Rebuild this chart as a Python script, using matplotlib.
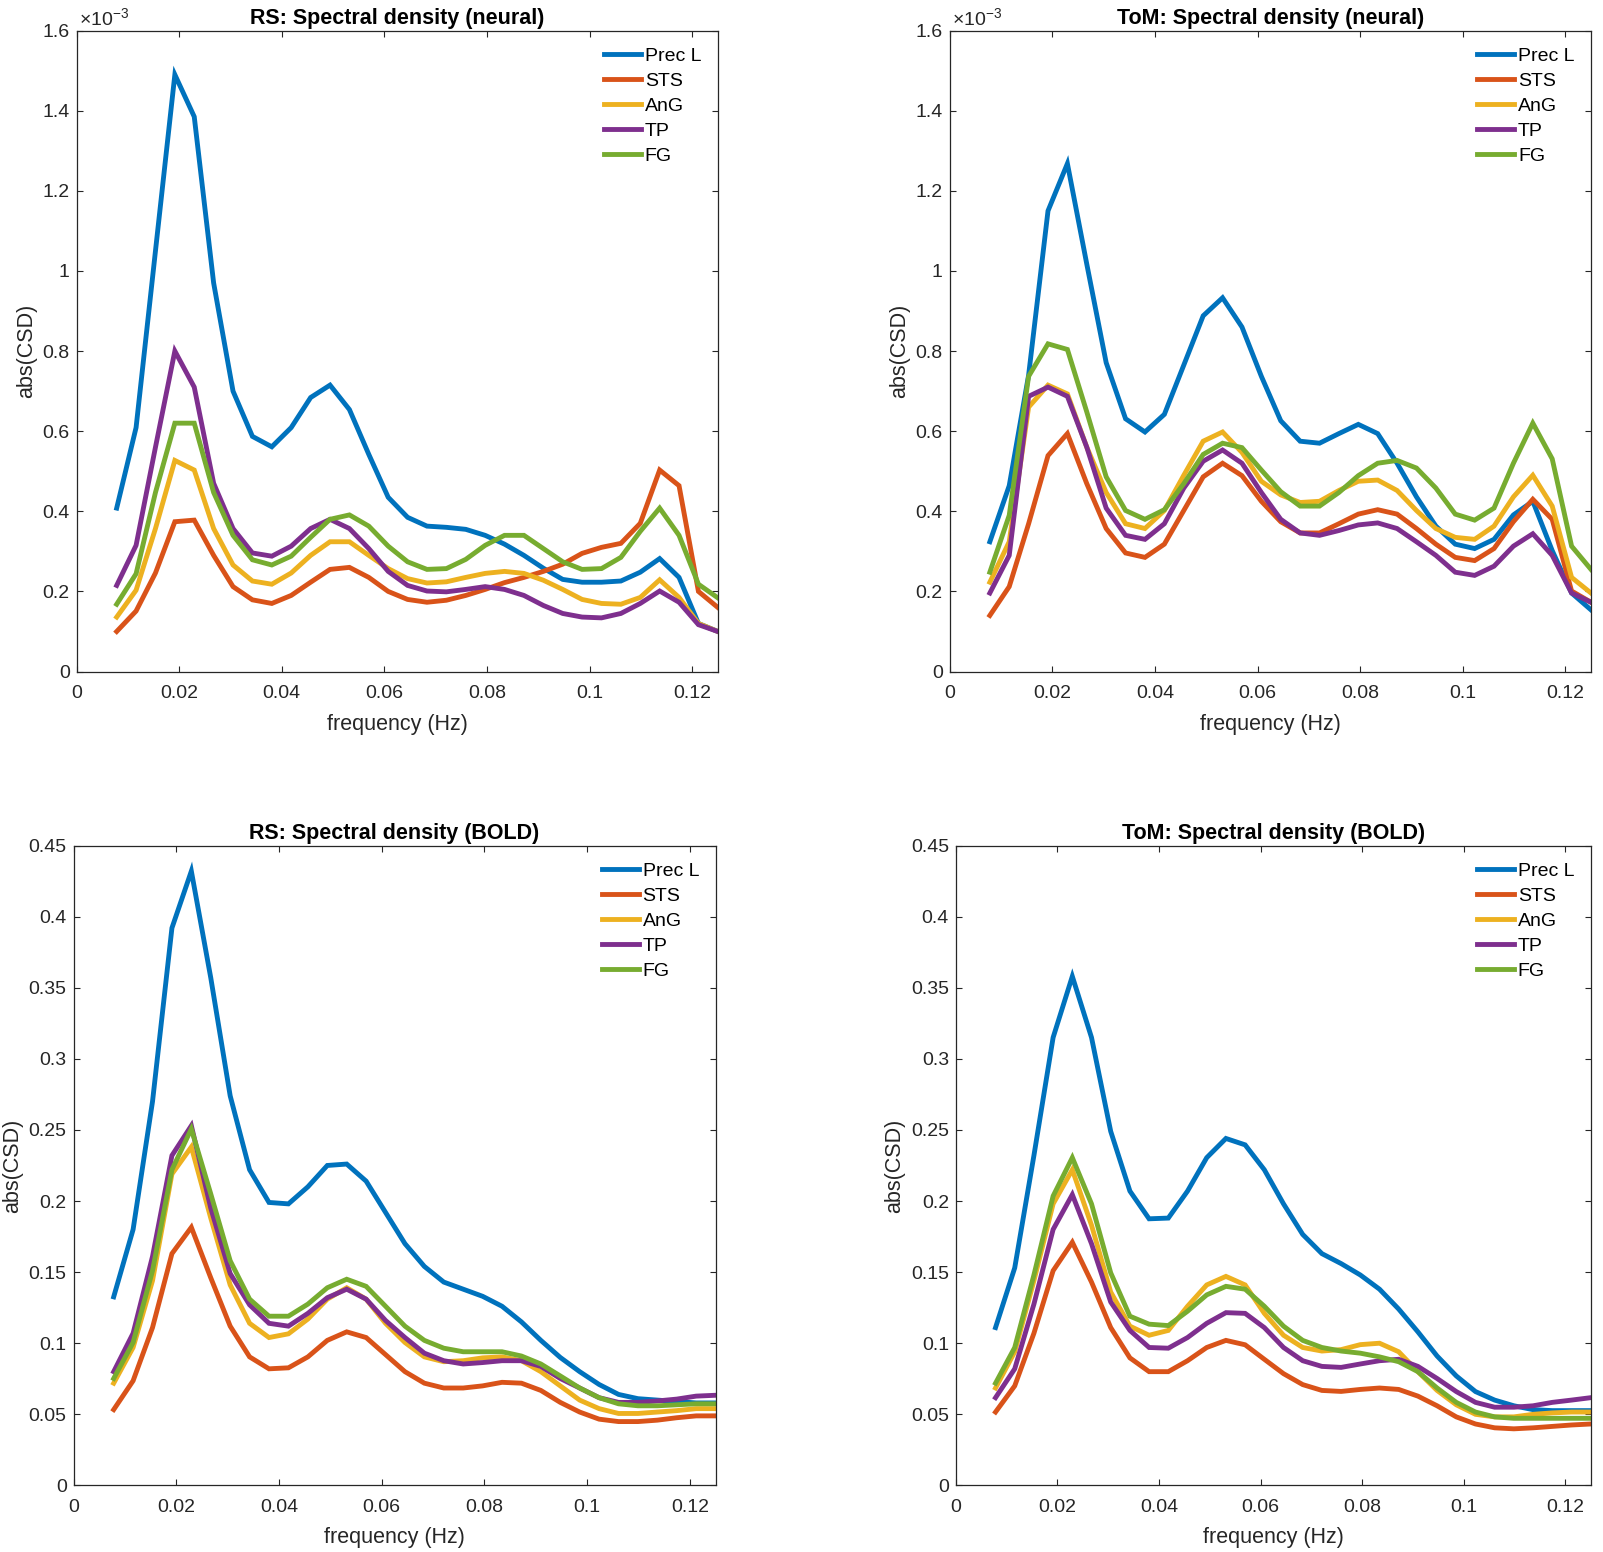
import numpy as np
import matplotlib.pyplot as plt
from matplotlib.ticker import FuncFormatter

plt.rcParams['font.family'] = ['Liberation Sans', 'DejaVu Sans']
plt.rcParams['mathtext.default'] = 'regular'

# frequency grid (Hz), 32 bins from 1/128 to 1/8
freq = [0.00781, 0.01159, 0.01537, 0.01915, 0.02293, 0.02671, 0.03049, 0.03427,
        0.03805, 0.04183, 0.04562, 0.04940, 0.05318, 0.05696, 0.06074, 0.06452,
        0.06830, 0.07208, 0.07586, 0.07964, 0.08342, 0.08720, 0.09098, 0.09476,
        0.09854, 0.10232, 0.10610, 0.10988, 0.11366, 0.11744, 0.12122, 0.12500]

regions = ['Prec L', 'STS', 'AnG', 'TP', 'FG']
colors = ['#0072BD', '#D95319', '#EDB120', '#7E2F8E', '#77AC30']

# RS neural (x 1e-3)
rs_neural_prec = [0.408, 0.609, 1.05, 1.49, 1.385, 0.97, 0.70, 0.587, 0.561, 0.609, 0.684, 0.715,
                  0.654, 0.542, 0.435, 0.385, 0.363, 0.36, 0.355, 0.34, 0.318, 0.29, 0.258, 0.23,
                  0.223, 0.223, 0.226, 0.248, 0.282, 0.235, 0.12, 0.10]
rs_neural_sts = [0.10, 0.151, 0.246, 0.374, 0.378, 0.29, 0.212, 0.179, 0.170, 0.19, 0.223, 0.255,
                 0.26, 0.235, 0.20, 0.18, 0.173, 0.178, 0.19, 0.205, 0.222, 0.235, 0.25, 0.268,
                 0.295, 0.31, 0.32, 0.37, 0.503, 0.464, 0.20, 0.16]
rs_neural_ang = [0.136, 0.203, 0.357, 0.527, 0.503, 0.357, 0.266, 0.226, 0.218, 0.246, 0.29, 0.324,
                 0.324, 0.29, 0.257, 0.232, 0.221, 0.224, 0.235, 0.245, 0.25, 0.245, 0.228, 0.205,
                 0.18, 0.17, 0.168, 0.185, 0.229, 0.185, 0.12, 0.10]
rs_neural_tp = [0.215, 0.315, 0.56, 0.80, 0.71, 0.47, 0.357, 0.296, 0.288, 0.313, 0.357, 0.38,
                0.357, 0.307, 0.25, 0.215, 0.201, 0.199, 0.205, 0.212, 0.205, 0.19, 0.165, 0.145,
                0.136, 0.134, 0.145, 0.17, 0.201, 0.173, 0.117, 0.10]
rs_neural_fg = [0.168, 0.244, 0.447, 0.62, 0.62, 0.447, 0.34, 0.279, 0.266, 0.288, 0.335, 0.38,
                0.391, 0.363, 0.313, 0.274, 0.255, 0.257, 0.28, 0.315, 0.34, 0.34, 0.307, 0.274,
                0.255, 0.257, 0.285, 0.35, 0.408, 0.34, 0.218, 0.184]

# ToM neural (x 1e-3)
tom_neural_prec = [0.324, 0.464, 0.74, 1.15, 1.268, 1.017, 0.771, 0.631, 0.598, 0.642, 0.765, 0.888,
                   0.933, 0.86, 0.737, 0.626, 0.575, 0.57, 0.594, 0.617, 0.594, 0.52, 0.436, 0.363,
                   0.318, 0.307, 0.33, 0.391, 0.425, 0.302, 0.196, 0.154]
tom_neural_sts = [0.14, 0.212, 0.369, 0.539, 0.594, 0.469, 0.357, 0.296, 0.285, 0.318, 0.402, 0.486,
                  0.52, 0.489, 0.425, 0.374, 0.346, 0.346, 0.369, 0.393, 0.404, 0.393, 0.357, 0.318,
                  0.285, 0.277, 0.307, 0.374, 0.43, 0.38, 0.201, 0.173]
tom_neural_ang = [0.223, 0.324, 0.66, 0.715, 0.693, 0.56, 0.447, 0.369, 0.357, 0.402, 0.49, 0.575,
                  0.598, 0.547, 0.475, 0.441, 0.422, 0.425, 0.452, 0.475, 0.478, 0.452, 0.402, 0.357,
                  0.335, 0.33, 0.363, 0.436, 0.49, 0.413, 0.235, 0.196]
tom_neural_tp = [0.196, 0.29, 0.687, 0.71, 0.687, 0.56, 0.408, 0.34, 0.33, 0.369, 0.458, 0.525,
                 0.553, 0.52, 0.447, 0.38, 0.346, 0.34, 0.352, 0.366, 0.371, 0.357, 0.324, 0.29,
                 0.248, 0.24, 0.263, 0.313, 0.344, 0.29, 0.196, 0.173]
tom_neural_fg = [0.248, 0.39, 0.737, 0.818, 0.804, 0.648, 0.486, 0.402, 0.38, 0.404, 0.469, 0.542,
                 0.57, 0.559, 0.503, 0.449, 0.413, 0.413, 0.447, 0.489, 0.52, 0.527, 0.508, 0.458,
                 0.393, 0.378, 0.408, 0.52, 0.62, 0.531, 0.313, 0.255]

# RS BOLD
rs_bold_prec = [0.1326, 0.18, 0.27, 0.392, 0.432, 0.357, 0.274, 0.222, 0.199, 0.198, 0.21, 0.225,
                0.226, 0.214, 0.192, 0.17, 0.154, 0.143, 0.138, 0.133, 0.126, 0.115, 0.102, 0.09,
                0.08, 0.071, 0.064, 0.061, 0.06, 0.059, 0.058, 0.058]
rs_bold_sts = [0.0533, 0.0736, 0.111, 0.163, 0.1815, 0.146, 0.112, 0.0904, 0.082, 0.0827, 0.0904, 0.102,
               0.108, 0.104, 0.092, 0.080, 0.0719, 0.0685, 0.0685, 0.07, 0.0725, 0.0719, 0.0668, 0.0584,
               0.0516, 0.0466, 0.0449, 0.0449, 0.0459, 0.0476, 0.0489, 0.0489]
rs_bold_ang = [0.0719, 0.097, 0.144, 0.219, 0.238, 0.188, 0.141, 0.114, 0.104, 0.1066, 0.117, 0.131,
               0.139, 0.131, 0.114, 0.1005, 0.0904, 0.087, 0.0877, 0.0897, 0.0904, 0.0877, 0.080, 0.070,
               0.060, 0.054, 0.0506, 0.0506, 0.0516, 0.0526, 0.054, 0.054]
rs_bold_tp = [0.080, 0.107, 0.161, 0.232, 0.253, 0.195, 0.149, 0.127, 0.114, 0.112, 0.121, 0.132,
              0.138, 0.131, 0.116, 0.104, 0.093, 0.0877, 0.0854, 0.0864, 0.0877, 0.0877, 0.0837, 0.0752,
              0.0685, 0.0617, 0.0584, 0.0584, 0.0594, 0.0607, 0.0628, 0.0634]
rs_bold_fg = [0.0752, 0.1005, 0.151, 0.222, 0.2507, 0.205, 0.158, 0.131, 0.119, 0.119, 0.1275, 0.139,
              0.145, 0.140, 0.126, 0.112, 0.102, 0.0965, 0.094, 0.094, 0.094, 0.091, 0.0854, 0.077,
              0.0685, 0.0617, 0.0574, 0.056, 0.056, 0.0567, 0.0574, 0.0574]

# ToM BOLD
tom_bold_prec = [0.111, 0.153, 0.232, 0.315, 0.358, 0.315, 0.249, 0.207, 0.1875, 0.188, 0.207, 0.2305,
                 0.244, 0.2395, 0.222, 0.198, 0.1765, 0.163, 0.156, 0.148, 0.138, 0.124, 0.108, 0.091,
                 0.077, 0.066, 0.060, 0.056, 0.0533, 0.0526, 0.0526, 0.0526]
tom_bold_sts = [0.0516, 0.070, 0.107, 0.151, 0.171, 0.143, 0.111, 0.0897, 0.080, 0.080, 0.0877, 0.097,
                0.102, 0.0989, 0.0887, 0.0786, 0.0709, 0.0668, 0.0661, 0.0675, 0.0685, 0.0675, 0.0628, 0.056,
                0.0482, 0.0432, 0.0405, 0.0398, 0.0405, 0.0415, 0.0425, 0.0432]
tom_bold_ang = [0.0685, 0.094, 0.144, 0.198, 0.222, 0.183, 0.136, 0.112, 0.1056, 0.109, 0.126, 0.141,
                0.147, 0.141, 0.121, 0.1056, 0.097, 0.0945, 0.0955, 0.099, 0.100, 0.094, 0.080, 0.0668,
                0.0567, 0.050, 0.0482, 0.0482, 0.050, 0.051, 0.0516, 0.0516]
tom_bold_tp = [0.0617, 0.082, 0.1275, 0.18, 0.2045, 0.17, 0.129, 0.109, 0.097, 0.0965, 0.104, 0.114,
               0.1215, 0.121, 0.111, 0.097, 0.0877, 0.0837, 0.083, 0.0854, 0.0877, 0.0887, 0.0837, 0.0752,
               0.066, 0.0584, 0.055, 0.055, 0.056, 0.0584, 0.060, 0.0617]
tom_bold_fg = [0.0719, 0.097, 0.148, 0.2035, 0.2305, 0.198, 0.1495, 0.119, 0.1134, 0.1124, 0.1225, 0.134,
               0.140, 0.138, 0.126, 0.112, 0.102, 0.097, 0.0945, 0.093, 0.0904, 0.087, 0.080, 0.0685,
               0.0584, 0.0516, 0.0482, 0.0472, 0.0472, 0.0472, 0.0472, 0.0472]

axcol = '#262626'

fig = plt.figure(figsize=(16.03, 15.52), dpi=100)

panels = [
    ([0.0478, 0.5673, 0.4000, 0.4130], 'RS: Spectral density (neural)',
     [rs_neural_prec, rs_neural_sts, rs_neural_ang, rs_neural_tp, rs_neural_fg], True),
    ([0.5925, 0.5673, 0.4000, 0.4130], 'ToM: Spectral density (neural)',
     [tom_neural_prec, tom_neural_sts, tom_neural_ang, tom_neural_tp, tom_neural_fg], True),
    ([0.0459, 0.0429, 0.4005, 0.4123], 'RS: Spectral density (BOLD)',
     [rs_bold_prec, rs_bold_sts, rs_bold_ang, rs_bold_tp, rs_bold_fg], False),
    ([0.5963, 0.0429, 0.3960, 0.4123], 'ToM: Spectral density (BOLD)',
     [tom_bold_prec, tom_bold_sts, tom_bold_ang, tom_bold_tp, tom_bold_fg], False),
]

for rect, title, series, neural in panels:
    ax = fig.add_axes(rect)
    for vals, name, c in zip(series, regions, colors):
        v = np.array(vals) * (1e-3 if neural else 1.0)
        ax.plot(freq, v, color=c, lw=3.5, label=name, solid_joinstyle='miter')
    ax.set_xlim(0, 0.125)
    ax.set_xticks([0, 0.02, 0.04, 0.06, 0.08, 0.1, 0.12])
    ax.xaxis.set_major_formatter(FuncFormatter(lambda x, p: '%g' % round(x, 4)))
    if neural:
        ax.set_ylim(0, 1.6e-3)
        ax.set_yticks(np.arange(0, 9) * 0.2e-3)
        ax.yaxis.set_major_formatter(FuncFormatter(lambda y, p: '%g' % round(y * 1e3, 4)))
        ax.text(0.004, 1.009, '×10$^{-3}$', transform=ax.transAxes, ha='left', va='baseline',
                fontsize=14, color=axcol)
    else:
        ax.set_ylim(0, 0.45)
        ax.set_yticks(np.arange(0, 10) * 0.05)
        ax.yaxis.set_major_formatter(FuncFormatter(lambda y, p: '%g' % round(y, 4)))
    ax.tick_params(direction='in', top=True, right=True, length=4, width=0.8,
                   colors=axcol, labelsize=14)
    ax.tick_params(axis='x', pad=10)
    ax.tick_params(axis='y', pad=5)
    for s in ax.spines.values():
        s.set_color(axcol)
        s.set_linewidth(0.9)
    ax.set_title(title, fontsize=15.5, fontweight='bold', pad=5)
    ax.set_xlabel('frequency (Hz)', fontsize=15.5, color=axcol, labelpad=8)
    ax.set_ylabel('abs(CSD)', fontsize=15.5, color=axcol, labelpad=4)
    ax.legend(loc='upper right', frameon=False, fontsize=14, handlelength=1.9,
              handletextpad=0.2, labelspacing=0.38, borderaxespad=0.45)

fig.savefig('out.png', dpi=100)
